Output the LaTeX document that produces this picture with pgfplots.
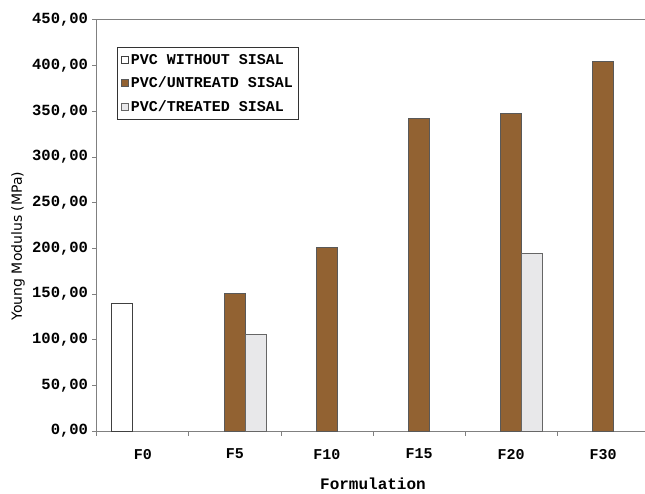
\documentclass[border=0pt]{standalone}
\usepackage{fontspec}
\setmainfont{DejaVu Sans}
\newfontfamily\monof{Liberation Mono}
\usepackage{pgfplots}
\pgfplotsset{compat=1.18}

\definecolor{axgray}{RGB}{128,128,128}
\definecolor{brownbar}{RGB}{146,98,50}
\definecolor{treated}{RGB}{232,232,234}

\begin{document}
\begin{tikzpicture}
\begin{axis}[
  scale only axis, width=552pt, height=411pt,
  at={(0pt,0pt)}, anchor=south west,
  xmin=-0.5, xmax=5.5, ymin=0, ymax=450,
  axis x line*=bottom, axis y line*=left,
  axis line style={axgray, line width=1pt},
  tick style={axgray, line width=1pt},
  tick align=outside, major tick length=4.5pt,
  ytick={0,50,...,450},
  yticklabels={{0,00},{50,00},{100,00},{150,00},{200,00},{250,00},{300,00},{350,00},{400,00},{450,00}},
  yticklabel style={font=\monof\bfseries\fontsize{15.5}{15.5}\selectfont, xshift=-1pt},
  xtick={-0.5,0.5,...,5.5},
  x tick label as interval,
  xticklabels={F0,F5,F10,F15,F20,F30},
  xticklabel style={font=\monof\bfseries\fontsize{15}{15}\selectfont, yshift=-10pt},
  xlabel={Formulation},
  xlabel style={at={(axis description cs:0.5,-0.128)}, anchor=center, font=\monof\bfseries\fontsize{16}{16}\selectfont},
  ylabel={Young Modulus (MPa)},
  ylabel style={at={(axis description cs:-0.143,0.45)}, anchor=center, font=\fontsize{14}{14}\selectfont},
  ybar,
  legend style={at={(axis description cs:0.036,0.934)}, anchor=north west, draw=black!80, line width=0.8pt,
    font=\monof\bfseries\fontsize{15}{17}\selectfont, row sep=7.5pt, inner xsep=4pt, inner ysep=4.5pt,
    cells={anchor=west}},
  legend image code/.code={\draw[#1, line width=0.5pt] (1pt,-3.5pt) rectangle (8pt,3.5pt);},
  clip=false,
]
\addplot[ybar, bar width=21pt, bar shift=-21pt, fill=white, draw=black!75, line width=0.8pt]
  coordinates {(0,140)};
\addplot[ybar, bar width=21pt, bar shift=0pt, fill=brownbar, draw=black!65, line width=0.8pt]
  coordinates {(1,151) (2,201) (3,342) (4,348) (5,405)};
\addplot[ybar, bar width=21pt, bar shift=21pt, fill=treated, draw=black!60, line width=0.8pt]
  coordinates {(1,106) (4,194)};
\legend{PVC WITHOUT SISAL, PVC/UNTREATD SISAL, PVC/TREATED SISAL}
\draw[axgray, line width=1pt] (rel axis cs:0,1) -- (rel axis cs:1,1);
\end{axis}
\pgfresetboundingbox
\path[use as bounding box] (-97pt,-62pt) rectangle (548pt,431pt);
\end{tikzpicture}
\end{document}
